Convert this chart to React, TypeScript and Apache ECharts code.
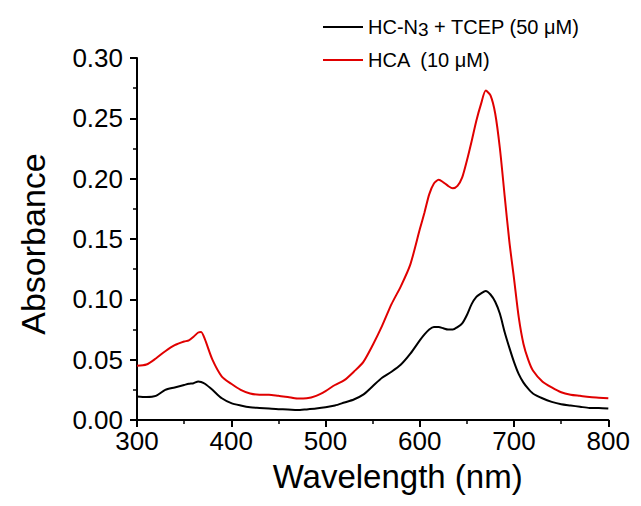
import React, { useEffect, useRef } from "react";
import * as echarts from "echarts";

const wavelengths = [300, 310, 320, 330, 340, 350, 355, 360, 365, 368, 372, 380, 390, 400, 410, 420, 430, 440, 450, 460, 470, 480, 490, 500, 510, 520, 530, 540, 550, 560, 570, 580, 590, 600, 605, 610, 615, 620, 625, 630, 635, 640, 645, 650, 655, 660, 665, 670, 675, 680, 685, 690, 695, 700, 705, 710, 715, 720, 730, 740, 750, 760, 770, 780, 790, 800];

const hcaValues = [0.045, 0.046, 0.051, 0.057, 0.062, 0.065, 0.066, 0.069, 0.0725, 0.073, 0.067, 0.05, 0.036, 0.03, 0.025, 0.022, 0.021, 0.021, 0.02, 0.019, 0.0178, 0.018, 0.02, 0.024, 0.029, 0.033, 0.04, 0.048, 0.062, 0.078, 0.096, 0.111, 0.129, 0.158, 0.172, 0.187, 0.196, 0.199, 0.197, 0.194, 0.192, 0.194, 0.201, 0.215, 0.231, 0.248, 0.262, 0.273, 0.269, 0.254, 0.225, 0.186, 0.148, 0.117, 0.085, 0.063, 0.05, 0.041, 0.032, 0.027, 0.023, 0.021, 0.02, 0.019, 0.0185, 0.018];

const hcn3Values = [0.0195, 0.019, 0.02, 0.025, 0.027, 0.029, 0.03, 0.0305, 0.032, 0.0315, 0.03, 0.025, 0.018, 0.014, 0.012, 0.0105, 0.01, 0.0095, 0.009, 0.0088, 0.0082, 0.0088, 0.0095, 0.0105, 0.012, 0.0145, 0.017, 0.021, 0.028, 0.035, 0.04, 0.046, 0.055, 0.066, 0.071, 0.075, 0.077, 0.077, 0.076, 0.075, 0.075, 0.077, 0.08, 0.087, 0.096, 0.102, 0.105, 0.107, 0.104, 0.098, 0.088, 0.073, 0.06, 0.048, 0.038, 0.031, 0.026, 0.022, 0.018, 0.015, 0.013, 0.012, 0.011, 0.01, 0.01, 0.0095];

const seriesNames = ["HC-N3 + TCEP (50 μM)", "HCA  (10 μM)"];
const xTicks = [300, 400, 500, 600, 700, 800];
const yTicks = [0, 0.05, 0.1, 0.15, 0.2, 0.25, 0.3];

const FONT = "'Liberation Sans', Arial, sans-serif";

export default function App() {
  const ref = useRef<HTMLDivElement>(null);
  useEffect(() => {
    if (!ref.current) return;
    const chart = echarts.init(ref.current, null, { renderer: "svg" });
    const axisLine = { show: true, onZero: false, lineStyle: { color: "#000", width: 2 } };
    chart.setOption({
      animation: false,
      backgroundColor: "#fff",
      grid: { left: 112, right: 20, top: 50, bottom: 72, containLabel: false },
      legend: {
        orient: "vertical",
        left: 310,
        top: 4,
        itemGap: 11,
        itemWidth: 40,
        itemHeight: 2,
        icon: "rect",
        data: seriesNames,
        textStyle: {
          fontFamily: FONT,
          fontSize: 20,
          color: "#000",
          rich: {
            a: { fontFamily: FONT, fontSize: 20, color: "#000", lineHeight: 24 },
            s: { fontFamily: FONT, fontSize: 19, color: "#000", lineHeight: 14, verticalAlign: "bottom" },
          },
        },
        formatter: (name: string) =>
          name.startsWith("HC-N3")
            ? "{a|HC-N}{s|3}{a| + TCEP (50 μM)}"
            : "{a|" + name + "}",
      },
      xAxis: {
        type: "value",
        min: xTicks[0],
        max: xTicks[xTicks.length - 1],
        interval: 100,
        name: "Wavelength (nm)",
        nameLocation: "middle",
        nameGap: 40,
        nameTextStyle: { fontFamily: FONT, fontSize: 33, color: "#000", padding: [0, 0, 0, 50] },
        axisLine,
        axisTick: { show: true, inside: false, length: 7, lineStyle: { color: "#000", width: 2 } },
        minorTick: { show: true, splitNumber: 2, length: 4, lineStyle: { color: "#000", width: 1.5 } },
        axisLabel: { fontFamily: FONT, fontSize: 26, color: "#000", margin: 8 },
        splitLine: { show: false },
      },
      yAxis: {
        type: "value",
        min: yTicks[0],
        max: yTicks[yTicks.length - 1],
        interval: 0.05,
        name: "Absorbance",
        nameLocation: "middle",
        nameGap: 87,
        nameRotate: 90,
        nameTextStyle: { fontFamily: FONT, fontSize: 34, color: "#000", padding: [0, 10, 0, 0] },
        axisLine,
        axisTick: { show: true, inside: false, length: 7, lineStyle: { color: "#000", width: 2 } },
        minorTick: { show: true, splitNumber: 2, length: 4, lineStyle: { color: "#000", width: 1.5 } },
        axisLabel: {
          fontFamily: FONT,
          fontSize: 26,
          color: "#000",
          margin: 14,
          formatter: (v: number) => v.toFixed(2),
        },
        splitLine: { show: false },
      },
      series: [
        {
          name: seriesNames[0],
          type: "line",
          data: wavelengths.map((w, i) => [w, hcn3Values[i]]),
          showSymbol: false,
          smooth: 0.25,
          lineStyle: { color: "#000", width: 2 },
          itemStyle: { color: "#000" },
          z: 3,
        },
        {
          name: seriesNames[1],
          type: "line",
          data: wavelengths.map((w, i) => [w, hcaValues[i]]),
          showSymbol: false,
          smooth: 0.25,
          lineStyle: { color: "#e00000", width: 2 },
          itemStyle: { color: "#e00000" },
          z: 2,
        },
      ],
    });
    return () => chart.dispose();
  }, []);
  return <div ref={ref} style={{ width: 625, height: 490 }} />;
}
